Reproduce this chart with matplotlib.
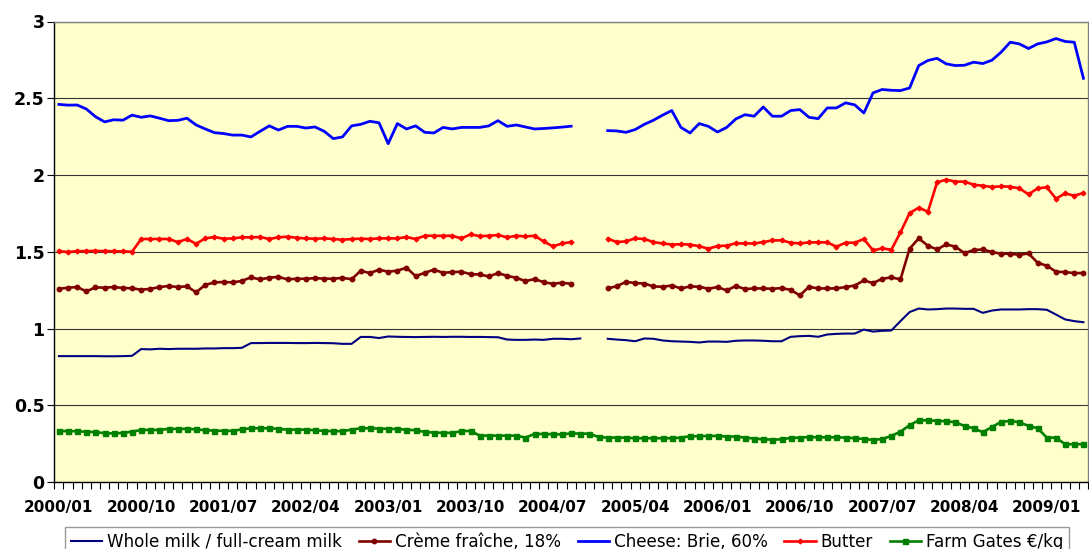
import numpy as np
import matplotlib
matplotlib.use("Agg")
import matplotlib.pyplot as plt
from matplotlib.ticker import MultipleLocator

nan = np.nan

# monthly consumer prices (EUR), 2000/01 .. 2009/05
months = ["{}/{:02d}".format(2000 + m // 12, m % 12 + 1) for m in range(113)]

whole_milk = [
    0.82, 0.82, 0.82, 0.82, 0.82, 0.819, 0.819, 0.82, 0.822, 0.866,
    0.864, 0.868, 0.866, 0.868, 0.868, 0.868, 0.870, 0.870, 0.872, 0.872,
    0.874, 0.905, 0.905, 0.906, 0.906, 0.906, 0.905, 0.905, 0.906, 0.905,
    0.904, 0.90, 0.90, 0.945, 0.945, 0.938, 0.948, 0.946, 0.945, 0.944,
    0.945, 0.946, 0.945, 0.946, 0.946, 0.945, 0.945, 0.944, 0.943, 0.928,
    0.926, 0.926, 0.928, 0.926, 0.933, 0.933, 0.93, 0.935, nan, nan,
    0.933, 0.928, 0.924, 0.917, 0.935, 0.933, 0.922, 0.917, 0.915, 0.913,
    0.909, 0.915, 0.915, 0.913, 0.92, 0.922, 0.922, 0.92, 0.917, 0.917,
    0.946, 0.95, 0.952, 0.946, 0.961, 0.965, 0.967, 0.967, 0.993, 0.98,
    0.985, 0.987, 1.048, 1.107, 1.13, 1.124, 1.126, 1.13, 1.13, 1.128,
    1.128, 1.102, 1.117, 1.124, 1.124, 1.124, 1.126, 1.126, 1.122, 1.091,
    1.059, 1.048, 1.041]

creme_fraiche = [
    1.258, 1.266, 1.27, 1.242, 1.268, 1.266, 1.27, 1.264, 1.262, 1.253,
    1.258, 1.27, 1.277, 1.27, 1.275, 1.236, 1.284, 1.30, 1.303, 1.30,
    1.31, 1.333, 1.32, 1.331, 1.336, 1.32, 1.324, 1.324, 1.328, 1.325,
    1.324, 1.33, 1.321, 1.376, 1.361, 1.383, 1.37, 1.377, 1.396, 1.341,
    1.363, 1.383, 1.363, 1.367, 1.37, 1.354, 1.352, 1.339, 1.361, 1.343,
    1.33, 1.309, 1.322, 1.302, 1.291, 1.298, 1.291, nan, nan, nan,
    1.261, 1.276, 1.304, 1.296, 1.293, 1.274, 1.272, 1.28, 1.261, 1.274,
    1.272, 1.259, 1.27, 1.248, 1.277, 1.257, 1.261, 1.261, 1.259, 1.263,
    1.252, 1.215, 1.272, 1.261, 1.261, 1.261, 1.27, 1.28, 1.313, 1.296,
    1.324, 1.333, 1.32, 1.52, 1.587, 1.539, 1.515, 1.548, 1.533, 1.491,
    1.511, 1.515, 1.498, 1.487, 1.487, 1.48, 1.489, 1.428, 1.409, 1.37,
    1.367, 1.361, 1.361]

brie = [
    2.46, 2.455, 2.456, 2.43, 2.38, 2.346, 2.36, 2.357, 2.39, 2.376,
    2.385, 2.37, 2.354, 2.356, 2.37, 2.326, 2.30, 2.276, 2.27, 2.26,
    2.26, 2.248, 2.285, 2.32, 2.293, 2.317, 2.317, 2.306, 2.313, 2.285,
    2.237, 2.248, 2.32, 2.33, 2.35, 2.34, 2.204, 2.335, 2.30, 2.32,
    2.278, 2.274, 2.31, 2.30, 2.31, 2.31, 2.31, 2.32, 2.354, 2.317,
    2.326, 2.313, 2.30, 2.303, 2.307, 2.312, 2.318, nan, nan, nan,
    2.289, 2.287, 2.278, 2.296, 2.33, 2.357, 2.39, 2.42, 2.31, 2.274,
    2.335, 2.317, 2.28, 2.31, 2.365, 2.393, 2.383, 2.443, 2.383, 2.383,
    2.42, 2.426, 2.376, 2.367, 2.437, 2.437, 2.47, 2.457, 2.404, 2.535,
    2.557, 2.552, 2.55, 2.567, 2.713, 2.746, 2.76, 2.724, 2.713, 2.715,
    2.735, 2.726, 2.748, 2.80, 2.865, 2.854, 2.824, 2.854, 2.867, 2.889,
    2.87, 2.865, 2.63]

butter = [
    1.504, 1.498, 1.504, 1.504, 1.506, 1.504, 1.504, 1.502, 1.50, 1.583,
    1.583, 1.583, 1.583, 1.563, 1.583, 1.552, 1.587, 1.596, 1.585, 1.587,
    1.594, 1.594, 1.596, 1.583, 1.594, 1.598, 1.591, 1.587, 1.585, 1.587,
    1.583, 1.578, 1.583, 1.585, 1.583, 1.587, 1.587, 1.587, 1.596, 1.583,
    1.604, 1.604, 1.604, 1.604, 1.587, 1.613, 1.602, 1.604, 1.609, 1.594,
    1.604, 1.600, 1.604, 1.567, 1.535, 1.554, 1.563, nan, nan, nan,
    1.585, 1.563, 1.568, 1.587, 1.583, 1.563, 1.554, 1.547, 1.549, 1.547,
    1.536, 1.52, 1.537, 1.54, 1.555, 1.554, 1.554, 1.563, 1.574, 1.574,
    1.559, 1.554, 1.561, 1.561, 1.561, 1.533, 1.559, 1.559, 1.583, 1.509,
    1.522, 1.513, 1.626, 1.752, 1.787, 1.761, 1.952, 1.97, 1.957, 1.957,
    1.937, 1.93, 1.922, 1.926, 1.924, 1.913, 1.874, 1.913, 1.92, 1.846,
    1.88, 1.865, 1.883]

farm_gates = [
    0.333, 0.331, 0.331, 0.327, 0.325, 0.318, 0.316, 0.320, 0.328, 0.339,
    0.339, 0.339, 0.346, 0.346, 0.346, 0.343, 0.337, 0.335, 0.333, 0.333,
    0.343, 0.35, 0.35, 0.35, 0.346, 0.341, 0.341, 0.341, 0.337, 0.333,
    0.331, 0.331, 0.341, 0.35, 0.35, 0.348, 0.346, 0.345, 0.341, 0.337,
    0.326, 0.322, 0.320, 0.320, 0.331, 0.333, 0.302, 0.302, 0.302, 0.302,
    0.302, 0.289, 0.313, 0.313, 0.311, 0.310, 0.317, 0.315, 0.315, 0.293,
    0.289, 0.289, 0.289, 0.285, 0.285, 0.285, 0.285, 0.285, 0.289, 0.298,
    0.298, 0.300, 0.300, 0.296, 0.296, 0.289, 0.283, 0.278, 0.276, 0.278,
    0.287, 0.289, 0.293, 0.291, 0.291, 0.291, 0.289, 0.285, 0.280, 0.274,
    0.280, 0.300, 0.328, 0.37, 0.402, 0.402, 0.398, 0.396, 0.389, 0.365,
    0.35, 0.324, 0.359, 0.391, 0.398, 0.389, 0.365, 0.35, 0.289, 0.289,
    0.246, 0.246, 0.246]

series_names = ["Whole milk / full-cream milk", "Crème fraîche, 18%",
                "Cheese: Brie, 60%", "Butter", "Farm Gates €/kg"]
y_labels = ["0", "0.5", "1", "1.5", "2", "2.5", "3"]

for s in (whole_milk, creme_fraiche, brie, butter, farm_gates):
    assert len(s) == len(months)

x = np.arange(len(months))

fig = plt.figure(figsize=(10.89, 5.49), dpi=100)
ax = fig.add_axes([54.3 / 1089, 1 - 482 / 549, (1088 - 54.3) / 1089, (482 - 21.5) / 549])
ax.set_facecolor("#FFFFCC")

ax.plot(x, whole_milk, color="#000080", lw=1.5, label=series_names[0])
ax.plot(x, creme_fraiche, color="#800000", lw=1.9, marker="o", ms=3.2, label=series_names[1])
ax.plot(x, brie, color="#0000FF", lw=2.0, label=series_names[2])
ax.plot(x, butter, color="#FF0000", lw=1.9, marker="D", ms=2.4, label=series_names[3])
ax.plot(x, farm_gates, color="#008000", lw=1.9, marker="s", ms=3.6, label=series_names[4])

ax.set_xlim(-0.5, len(months) - 0.5)
ax.set_ylim(0, 3)
ax.set_yticks(np.arange(0, 3.01, 0.5))
ax.set_yticklabels(y_labels)
ax.yaxis.grid(True, color="#333333", lw=0.8)
ax.set_axisbelow(True)

label_pos = x[::9]
ax.set_xticks(label_pos)
ax.set_xticklabels([months[i] for i in label_pos])
ax.xaxis.set_minor_locator(MultipleLocator(1, offset=0.5))
ax.tick_params(axis="x", which="major", length=0, pad=13)
ax.tick_params(axis="x", which="minor", length=5, width=0.8, direction="out")
ax.tick_params(axis="y", length=5, width=0.8, pad=2)
for lab in ax.get_xticklabels():
    lab.set_fontweight("bold")
    lab.set_fontsize(11)
for lab in ax.get_yticklabels():
    lab.set_fontweight("bold")
    lab.set_fontsize(12.5)

for side in ("left", "bottom"):
    ax.spines[side].set_color("black")
    ax.spines[side].set_linewidth(1.0)
for side in ("top", "right"):
    ax.spines[side].set_color("#808080")
    ax.spines[side].set_linewidth(1.0)

leg = fig.legend(loc="upper left", bbox_to_anchor=(65 / 1089, 1 - 527 / 549),
                 ncol=5, fontsize=12.1, frameon=True, fancybox=False,
                 borderaxespad=0, borderpad=0.35, handlelength=1.85,
                 handletextpad=0.3, columnspacing=1.0)
leg.get_frame().set_edgecolor("#808080")
leg.get_frame().set_linewidth(1.0)

fig.savefig("out.png", dpi=100)
